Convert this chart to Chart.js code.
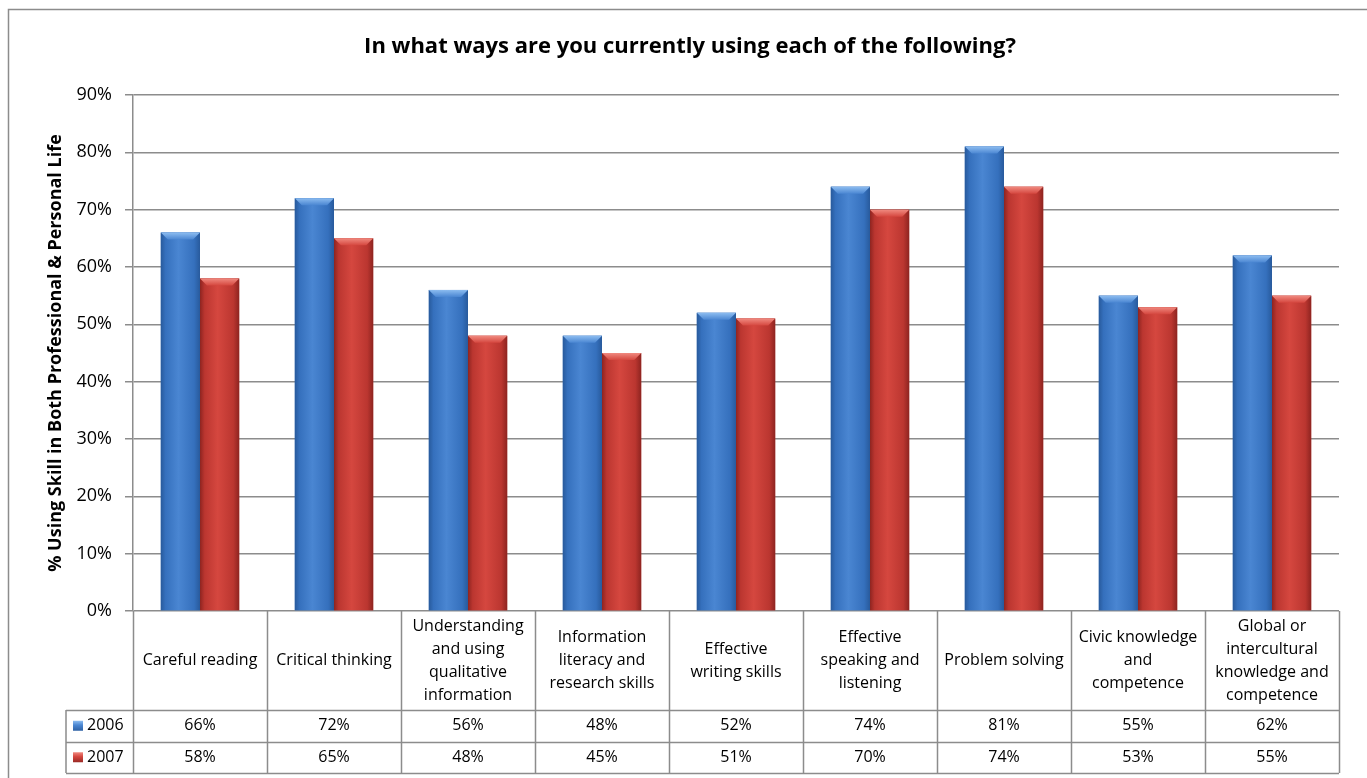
<!DOCTYPE html>
<html>
<head>
<meta charset="utf-8">
<script src="https://cdn.jsdelivr.net/npm/chart.js@4.4.1/dist/chart.umd.min.js"></script>
<style>
    html, body { margin: 0; padding: 0; background: #fff; }
    #wrap { width: 1367px; height: 778px; position: relative; }
</style>
</head>
<body>
<div id="wrap"><canvas id="grafico"></canvas></div>
<script>
// categorías (cada línea de la etiqueta por separado)
const categorias = [
    ["Careful reading"],
    ["Critical thinking"],
    ["Understanding", "and using", "qualitative", "information"],
    ["Information", "literacy and", "research skills"],
    ["Effective", "writing skills"],
    ["Effective", "speaking and", "listening"],
    ["Problem solving"],
    ["Civic knowledge", "and", "competence"],
    ["Global or", "intercultural", "knowledge and", "competence"]
];
const series = ["2006", "2007"];
const valores2006 = [66, 72, 56, 48, 52, 74, 81, 55, 62];
const valores2007 = [58, 65, 48, 45, 51, 70, 74, 53, 55];
const ticksY = [0, 10, 20, 30, 40, 50, 60, 70, 80, 90];

const titulo = "In what ways are you currently using each of the following?";
const tituloEjeY = "% Using Skill in Both Professional & Personal Life";

const FUENTE = "'Open Sans', Lato, sans-serif";
const GRIS = "#8c8c8c";

// colores de las barras: borde oscuro, medio, centro claro, bisel
const tonos = [
    { oscuro: "#285a9c", medio: "#3570bd", claro: "#4a86d2", bisel: "#8cbcf0" },
    { oscuro: "#8e2420", medio: "#bb3630", claro: "#d5473f", bisel: "#f08a80" }
];

// --- fondo, marco y título ---
const marcoPlugin = {
    id: "marco",
    beforeDraw(chart) {
        const c = chart.ctx;
        c.save();
        c.fillStyle = "#fff";
        c.fillRect(0, 0, chart.width, chart.height);
        c.strokeStyle = GRIS;
        c.lineWidth = 1.5;
        c.strokeRect(8.5, 9.5, chart.width + 20, chart.height + 20);
        c.fillStyle = "#000";
        c.font = "bold 22px " + FUENTE;
        c.textAlign = "center";
        c.textBaseline = "middle";
        c.fillText(titulo, 690, 47);
        c.restore();
    }
};

// --- barras con degradado y bisel superior ---
const sombreadoPlugin = {
    id: "sombreado",
    afterDatasetsDraw(chart) {
        const c = chart.ctx;
        c.save();
        chart.data.datasets.forEach((ds, di) => {
            const t = tonos[di];
            chart.getDatasetMeta(di).data.forEach(el => {
                const { x, y, base, width } = el.getProps(["x", "y", "base", "width"], true);
                const izq = x - width / 2;
                const g = c.createLinearGradient(izq, 0, izq + width, 0);
                g.addColorStop(0, t.oscuro);
                g.addColorStop(0.12, t.medio);
                g.addColorStop(0.45, t.claro);
                g.addColorStop(0.85, t.medio);
                g.addColorStop(1, t.oscuro);
                c.fillStyle = g;
                c.fillRect(izq, y, width, base - y);
                // bisel
                const b = 7;
                const gb = c.createLinearGradient(0, y, 0, y + b);
                gb.addColorStop(0, t.bisel);
                gb.addColorStop(1, t.claro);
                c.fillStyle = gb;
                c.beginPath();
                c.moveTo(izq, y);
                c.lineTo(izq + width, y);
                c.lineTo(izq + width - b, y + b);
                c.lineTo(izq + b, y + b);
                c.closePath();
                c.fill();
            });
        });
        c.restore();
    }
};

// --- tabla de datos bajo el eje X ---
const tablaPlugin = {
    id: "tabla",
    afterDraw(chart) {
        const c = chart.ctx;
        const area = chart.chartArea;
        const n = categorias.length;
        const ancho = (area.right - area.left) / n;
        const altoCab = 99;
        const altoFila = 31.5;
        const izqClave = 66;
        const filaY = area.bottom + altoCab;
        const fin = filaY + altoFila * 2;
        const filas = [valores2006, valores2007];

        c.save();
        c.strokeStyle = GRIS;
        c.lineWidth = 1.5;
        c.beginPath();
        for (let i = 0; i <= n; i++) {
            const x = Math.round(area.left + i * ancho) + 0.5;
            c.moveTo(x, area.bottom);
            c.lineTo(x, fin);
        }
        c.moveTo(izqClave, filaY);
        c.lineTo(izqClave, fin);
        for (let r = 0; r <= 2; r++) {
            const y = Math.round(filaY + r * altoFila) + 0.5;
            c.moveTo(izqClave, y);
            c.lineTo(area.right, y);
        }
        c.stroke();

        c.fillStyle = "#000";
        c.font = "16px " + FUENTE;
        c.textAlign = "center";
        c.textBaseline = "middle";
        const medioCab = area.bottom + altoCab / 2;
        categorias.forEach((lineas, i) => {
            const cx = chart.scales.x.getPixelForValue(i);
            const y0 = medioCab - (lineas.length - 1) * 23 / 2;
            lineas.forEach((l, k) => c.fillText(l, cx, y0 + k * 23));
        });

        filas.forEach((vals, r) => {
            const cy = filaY + altoFila * r + altoFila / 2;
            const t = tonos[r];
            const g = c.createLinearGradient(0, cy - 5, 0, cy + 6);
            g.addColorStop(0, t.bisel);
            g.addColorStop(0.4, t.claro);
            g.addColorStop(1, t.oscuro);
            c.fillStyle = g;
            c.fillRect(73, cy - 5, 10, 10);
            c.fillStyle = "#000";
            c.textAlign = "left";
            c.fillText(series[r], 87, cy);
            c.textAlign = "center";
            vals.forEach((v, i) => {
                c.fillText(v + "%", chart.scales.x.getPixelForValue(i), cy);
            });
        });
        c.restore();
    }
};

const ctx = document.getElementById("grafico").getContext("2d");

new Chart(ctx, {
    type: "bar",
    data: {
        labels: categorias,
        datasets: [
            { label: series[0], data: valores2006, backgroundColor: tonos[0].medio },
            { label: series[1], data: valores2007, backgroundColor: tonos[1].medio }
        ]
    },
    options: {
        responsive: true,
        maintainAspectRatio: false,
        animation: false,
        events: [],
        layout: { padding: { left: 8, top: 95, right: 28, bottom: 167 } },
        datasets: {
            bar: { categoryPercentage: 0.585, barPercentage: 1.0 }
        },
        plugins: {
            legend: { display: false },
            title: { display: false },
            tooltip: { enabled: false }
        },
        scales: {
            x: {
                grid: { display: false },
                border: { display: false },
                ticks: { display: false },
                afterFit(scale) { scale.height = 0; }
            },
            y: {
                min: 0,
                max: 90,
                afterBuildTicks(scale) {
                    scale.ticks = ticksY.map(v => ({ value: v }));
                },
                afterFit(scale) { scale.width = 125; },
                grid: { color: GRIS, lineWidth: 1.5, tickLength: 8 },
                border: { color: GRIS, width: 1.5 },
                ticks: {
                    padding: 13,
                    color: "#000",
                    font: { family: FUENTE, size: 18 },
                    callback: v => v + "%"
                },
                title: {
                    display: true,
                    text: tituloEjeY,
                    color: "#000",
                    font: { family: FUENTE, size: 18, weight: "bold" },
                    padding: { top: 37, bottom: 0 }
                }
            }
        }
    },
    plugins: [marcoPlugin, sombreadoPlugin, tablaPlugin]
});
</script>
</body>
</html>
